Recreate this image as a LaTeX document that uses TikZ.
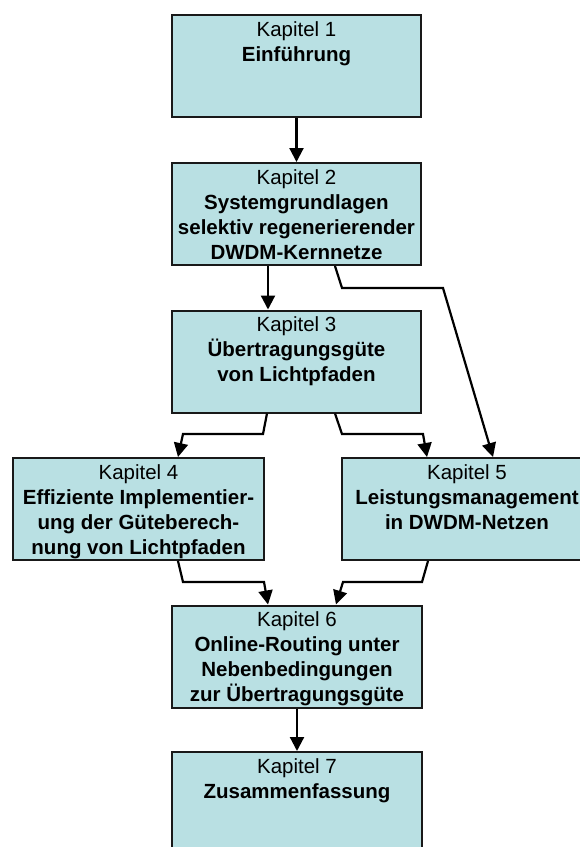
\documentclass[tikz,border=0pt]{standalone}
\usepackage{fontspec}
\setmainfont{Liberation Sans}
\usetikzlibrary{arrows.meta,calc}
\definecolor{boxfill}{RGB}{185,224,227}
\begin{document}
\begin{tikzpicture}[x=1pt,y=-1pt,
  chapbox/.style={draw=black!90, fill=boxfill, line width=2pt, inner sep=0pt,
    minimum width=249pt, minimum height=102pt},
  chaptext/.style={anchor=north, align=center, inner sep=0pt,
    font=\fontsize{20.5}{25}\selectfont},
  conn/.style={line width=2.2pt, -{Triangle[length=14pt,width=14pt]}}]
\useasboundingbox (0,0) rectangle (580,847);

% chapter boxes
\node[chapbox] (b1) at (296.5,66) {};
\node[chapbox] (b2) at (296.5,214) {};
\node[chapbox] (b3) at (296.5,361.5) {};
\node[chapbox, minimum width=251pt] (b4) at (138.5,509) {};
\node[chapbox, minimum width=250pt] (b5) at (467,509) {};
\node[chapbox, minimum width=250pt] (b6) at (297,656.5) {};
\node[chapbox, minimum width=250pt, minimum height=103pt] (b7) at (297,803.5) {};

% chapter titles
\node[chaptext] (t1) at ($(b1.north)+(0,7)$) {Kapitel 1\\\textbf{Einführung}};
\node[chaptext] (t2) at ($(b2.north)+(0,7)$) {Kapitel 2\\\textbf{Systemgrundlagen}\\\textbf{selektiv regenerierender}\\\textbf{DWDM-Kernnetze}};
\node[chaptext] (t3) at ($(b3.north)+(0,7)$) {Kapitel 3\\\textbf{Übertragungsgüte}\\\textbf{von Lichtpfaden}};
\node[chaptext] (t4) at ($(b4.north)+(0,7)$) {Kapitel 4\\\textbf{Effiziente Implementier-}\\\textbf{ung der Güteberech-}\\\textbf{nung von Lichtpfaden}};
\node[chaptext] (t5) at ($(b5.north)+(0,7)$) {Kapitel 5\\\textbf{Leistungsmanagement}\\\textbf{in DWDM-Netzen}};
\node[chaptext] (t6) at ($(b6.north)+(0,7)$) {Kapitel 6\\\textbf{Online-Routing unter}\\\textbf{Nebenbedingungen}\\\textbf{zur Übertragungsgüte}};
\node[chaptext] (t7) at ($(b7.north)+(0,7)$) {Kapitel 7\\\textbf{Zusammenfassung}};

% dependencies between chapters
\draw[conn] (b1) -- (b2);
\draw[conn] (268,0 |- b2.south) -- (268,0 |- b3.north);
\draw[conn] (335,0 |- b2.south) -- (342,288) -- (443,288) -- (493,0 |- b5.north);
\draw[conn] (267,0 |- b3.south) -- (263,434) -- (183,434) -- (178,0 |- b4.north);
\draw[conn] (335,0 |- b3.south) -- (342,434) -- (423,434) -- (427,0 |- b5.north);
\draw[conn] (178,0 |- b4.south) -- (183,582) -- (264,582) -- (268,0 |- b6.north);
\draw[conn] (428,0 |- b5.south) -- (422,582) -- (343,582) -- (336,0 |- b6.north);
\draw[conn] (b6) -- (b7);
\end{tikzpicture}
\end{document}
